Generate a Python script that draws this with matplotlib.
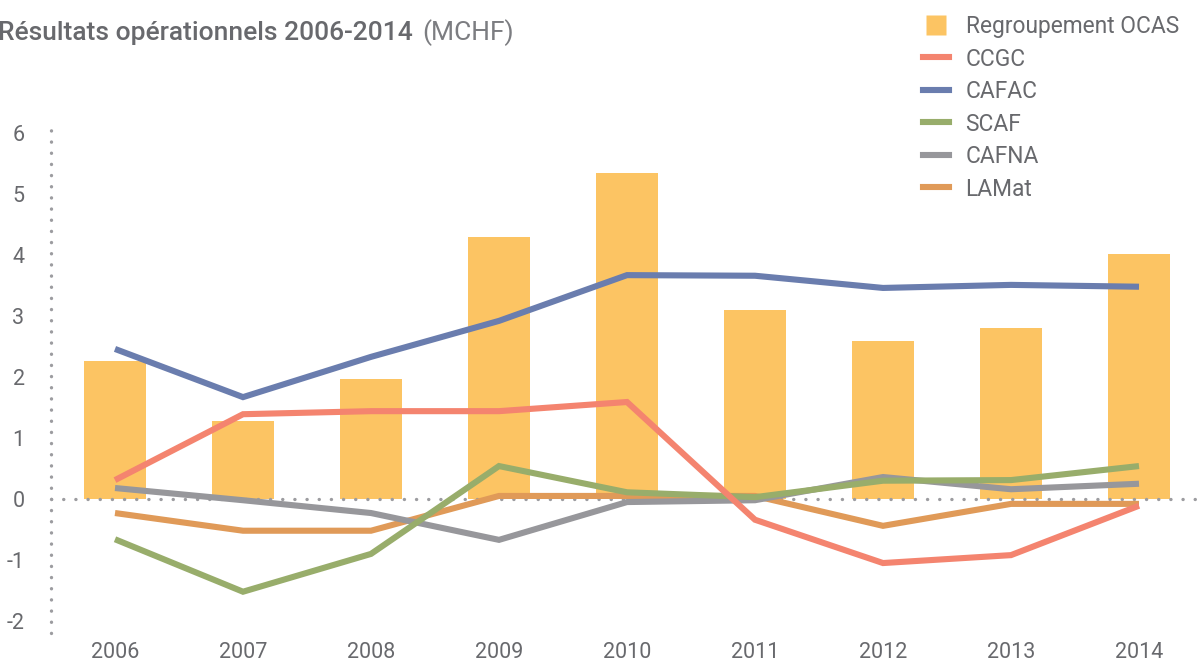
import matplotlib
matplotlib.use("Agg")
import matplotlib.pyplot as plt
from matplotlib.lines import Line2D
import numpy as np

years = ["2006", "2007", "2008", "2009", "2010", "2011", "2012", "2013", "2014"]
ocas = [2.26, 1.28, 1.97, 4.30, 5.34, 3.10, 2.59, 2.80, 4.02]
ccgc = [0.31, 1.39, 1.44, 1.44, 1.59, -0.34, -1.05, -0.92, -0.11]
cafac = [2.46, 1.67, 2.33, 2.92, 3.67, 3.66, 3.46, 3.51, 3.48]
scaf = [-0.66, -1.52, -0.90, 0.54, 0.11, 0.03, 0.30, 0.31, 0.54]
cafna = [0.18, -0.02, -0.23, -0.67, -0.05, -0.02, 0.36, 0.16, 0.25]
lamat = [-0.23, -0.52, -0.52, 0.05, 0.05, 0.05, -0.44, -0.08, -0.08]
yticks = [-2, -1, 0, 1, 2, 3, 4, 5, 6]

C_BAR = "#FCC463"
C_CCGC = "#F4846F"
C_CAFAC = "#6A7DAE"
C_SCAF = "#98AD6B"
C_CAFNA = "#97979B"
C_LAMAT = "#E09A58"
C_TXT = "#68696D"
C_DOT = "#9C9CA0"

FONT = ["Roboto", "DejaVu Sans"]
plt.rcParams["font.family"] = FONT

W, H = 1203, 663
fig = plt.figure(figsize=(W / 100, H / 100), dpi=100)
ax_left = 51 / W
ax_bottom = 1 - 633.2 / H
ax_h = (633.2 - 120.8) / H
ax = fig.add_axes([ax_left, ax_bottom, 1 - ax_left, ax_h])

x = np.arange(len(years))
ax.bar(x, ocas, width=0.49, color=C_BAR, zorder=1, label="Regroupement OCAS")

# zero line (dotted)
ax.axhline(0, color=C_DOT, lw=2.4, linestyle=(0, (0.05, 3.6)), dash_capstyle="round", zorder=2)
# y axis dotted line
ax.axvline(-0.5, color=C_DOT, lw=2.4, linestyle=(0, (0.05, 3.3)), dash_capstyle="round",
           zorder=2, clip_on=False)

lw = 4.4
series = [("LAMat", lamat, C_LAMAT), ("CAFNA", cafna, C_CAFNA), ("SCAF", scaf, C_SCAF),
          ("CAFAC", cafac, C_CAFAC), ("CCGC", ccgc, C_CCGC)]
for i, (name, vals, col) in enumerate(series):
    ax.plot(x, vals, color=col, lw=lw, solid_joinstyle="miter", solid_capstyle="butt",
            zorder=3 + i)

ax.set_xlim(-0.5, 8.5)
ax.set_ylim(-2.2, 6.2)
ax.set_xticks(x)
ax.set_xticklabels(years)
ax.set_yticks(yticks)
ax.set_yticklabels([str(v) for v in yticks])
ax.tick_params(axis="both", length=0, labelsize=15.5, labelcolor=C_TXT)
ax.tick_params(axis="x", pad=6)
ax.tick_params(axis="y", pad=19)
for s in ax.spines.values():
    s.set_visible(False)
ax.patch.set_alpha(0)

# Title
t1 = fig.text(-2 / W, 1 - 40 / H, "Résultats opérationnels 2006-2014", fontsize=19,
              fontweight="medium", color=C_TXT, ha="left", va="baseline")
fig.canvas.draw()
bb = t1.get_window_extent(fig.canvas.get_renderer())
fig.text((bb.x1 + 9) / W, 1 - 40 / H, "(MCHF)", fontsize=19,
         color="#7c7d81", ha="left", va="baseline")

# Legend
handles = [Line2D([], [], marker="s", markersize=13.7, linestyle="none",
                  markerfacecolor=C_BAR, markeredgecolor="none")]
labels = ["Regroupement OCAS"]
for name, col in [("CCGC", C_CCGC), ("CAFAC", C_CAFAC), ("SCAF", C_SCAF),
                  ("CAFNA", C_CAFNA), ("LAMat", C_LAMAT)]:
    handles.append(Line2D([], [], color=col, lw=lw))
    labels.append(name)
leg = fig.legend(handles, labels, loc="upper left", bbox_to_anchor=(923 / W, 1 - 15 / H),
                 frameon=False, labelcolor=C_TXT, handlelength=1.15,
                 handleheight=0.85, handletextpad=0.72, labelspacing=0.42,
                 borderaxespad=0, borderpad=0, prop={"size": 16.4})

fig.savefig("out.png", dpi=100)
